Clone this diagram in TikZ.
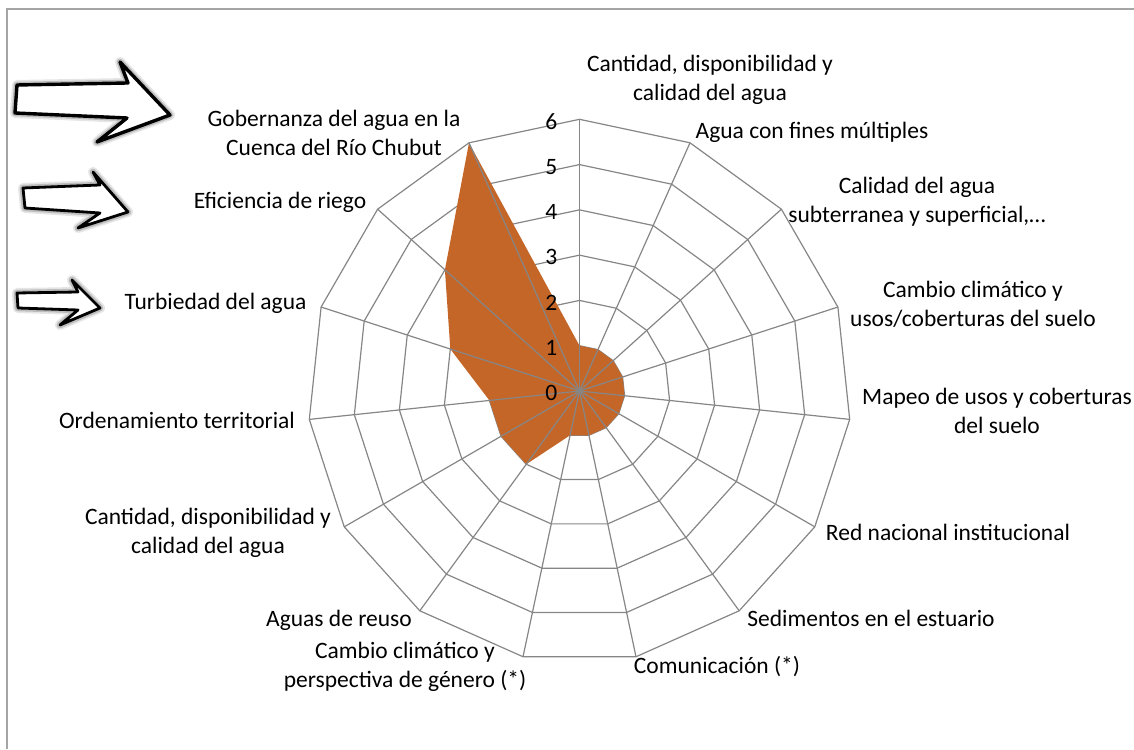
\documentclass[tikz,border=0pt]{standalone}
\usepackage{fontspec}
\setmainfont{Carlito}
\usepackage{tikz}
\usetikzlibrary{positioning, calc}
\definecolor{rdGrid}{RGB}{134, 134, 134}
\definecolor{rdFill}{RGB}{196, 102, 40}
\definecolor{rdFrame}{RGB}{165, 165, 165}
\tikzset{
    base/.style={
        font=\fontsize{23.5}{29}\selectfont,
        align=center,
        inner sep=0pt
    },
    axislabel/.style={
        base,
        text=black
    },
    ticklabel/.style={
        base,
        anchor=east
    },
    web/.style={
        draw=rdGrid,
        line width=1.2pt,
        line join=round
    },
    score/.style={
        fill=rdFill,
        draw=none
    },
    hint/.style={
        preaction={draw=black, opacity=0.10, line width=10pt, line join=round},
        preaction={draw=black, opacity=0.18, line width=6.5pt, line join=round},
        draw=black,
        fill=white,
        line width=2.8pt,
        line join=round
    }
}

\begin{document}
\begin{tikzpicture}[x=1pt, y=1pt]
  \useasboundingbox (0,0) rectangle (1134,749);

  % Frame
  \coordinate (frameBL) at (7,0);
  \coordinate (frameTL) at (7,740);
  \coordinate (frameTR) at (1134,740);
  \draw[rdFrame, line width=1.5pt] (frameBL) -- (frameTL) -- (frameTR);

  % Radar chart
  \def\rU{45.28} % one unit on the axes
  \begin{scope}[shift={(579.5,358)}]
    \coordinate (c) at (0,0);
    % rings
    \foreach \r in {1,...,6}{
      \draw[web] (90:\r*\rU) \foreach \k in {1,...,14}{ -- (90-24*\k:\r*\rU) } -- cycle;
    }
    % scores
    \foreach \v [count=\k from 0] in {1,1,1,1,1,1,1,1,1,2,2,2,3,4,6}{
      \coordinate (s\k) at (90-24*\k:\v*\rU);
    }
    \fill[score] (s0) \foreach \k in {1,...,14}{ -- (s\k) } -- cycle;
    % spokes
    \foreach \k in {0,...,14}{
      \coordinate (o\k) at (90-24*\k:6*\rU);
      \draw[web] (c) -- (o\k);
    }
    % axis values
    \foreach \r in {0,...,6}{
      \node[ticklabel] (t\r) at (-22,\r*\rU-2) {\r};
    }
  \end{scope}

  % Axis labels
  \node[axislabel] (l0) at (710,669) {Cantidad, disponibilidad y\\calidad del agua};
  \node[axislabel] (l1) at (812,617) {Agua con fines múltiples};
  \node[axislabel] (l2) at (917,547) {Calidad del agua\\subterranea y superficial,…};
  \node[axislabel] (l3) at (973,445) {Cambio climático y\\usos/coberturas del suelo};
  \node[axislabel] (l4) at (997,338) {Mapeo de usos y coberturas\\del suelo};
  \node[axislabel] (l5) at (948,217) {Red nacional institucional};
  \node[axislabel] (l6) at (871,131) {Sedimentos en el estuario};
  \node[axislabel] (l7) at (717,82) {Comunicación (*)};
  \node[axislabel] (l8) at (405,82) {Cambio climático y\\perspectiva de género (*)};
  \node[axislabel] (l9) at (339,129) {Aguas de reuso};
  \node[axislabel] (l10) at (208,216.5) {Cantidad, disponibilidad y\\calidad del agua};
  \node[axislabel] (l11) at (177,329) {Ordenamiento territorial};
  \node[axislabel] (l12) at (215.5,446) {Turbiedad del agua};
  \node[axislabel] (l13) at (280,547) {Eficiencia de riego};
  \node[axislabel] (l14) at (334,616.5) {Gobernanza del agua en la\\Cuenca del Río Chubut};

  % Hint arrows
  \draw[hint, line width=3.4pt] (17,664) -- (128,666) -- (120,687) -- (170,634)
    -- (97,607) -- (127,631) -- (15,636) -- cycle;
  \draw[hint] (23,561) -- (100,564) -- (93,577) -- (128,537)
    -- (78,521) -- (100,536) -- (25,541) -- cycle;
  \draw[hint] (17,456) -- (78,457) -- (72,469) -- (100,441)
    -- (60,424) -- (78,439) -- (18,441) -- cycle;
\end{tikzpicture}
\end{document}
